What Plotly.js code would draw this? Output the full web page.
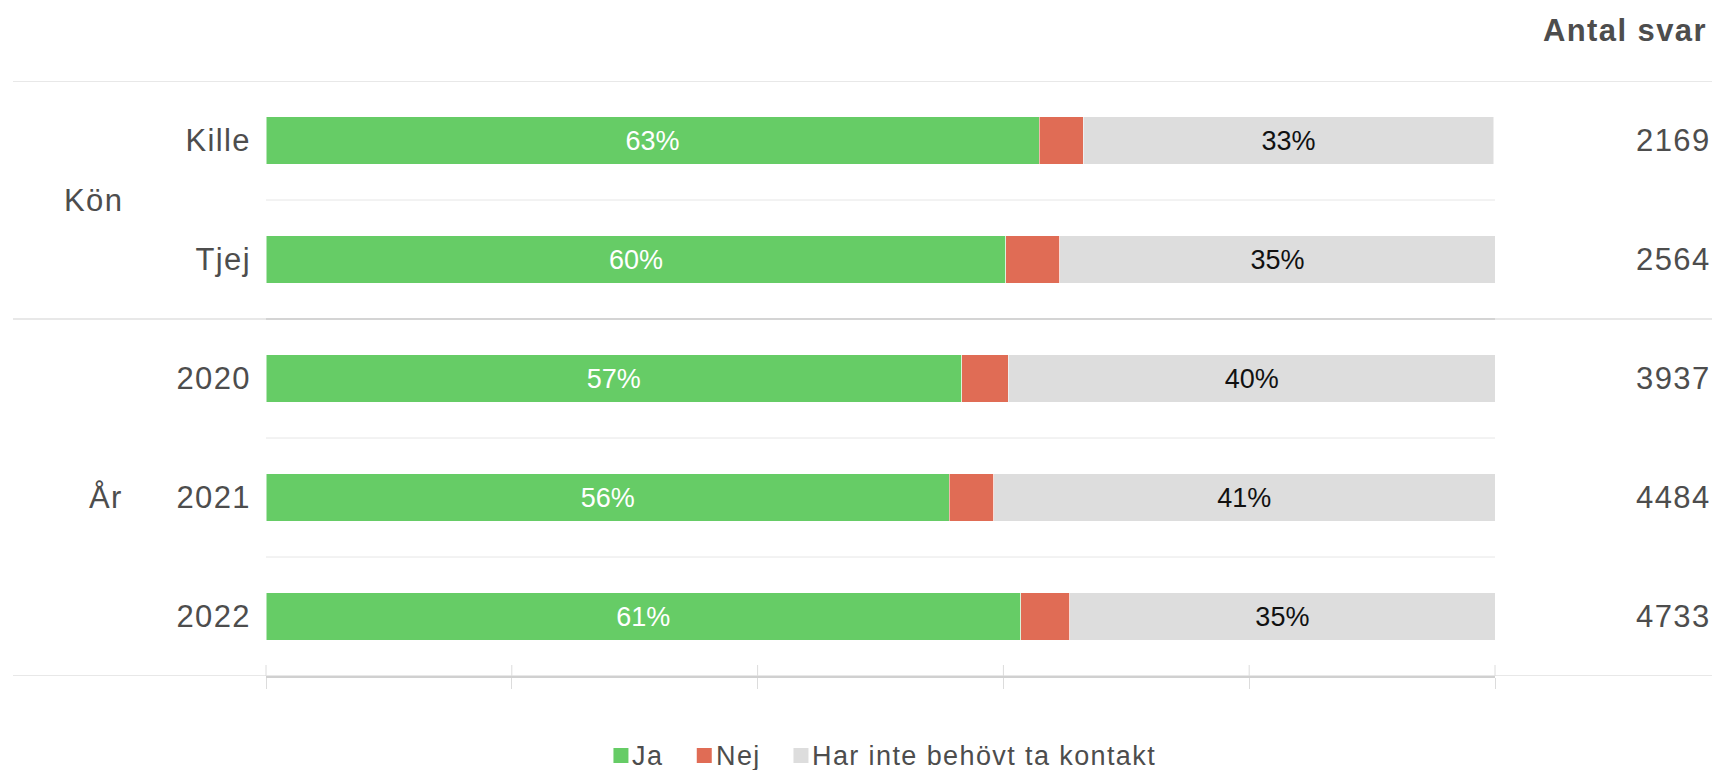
<!DOCTYPE html>
<html><head><meta charset="utf-8">
<script src="https://cdn.plot.ly/plotly-3.0.1.min.js"></script>
<style>
html,body{margin:0;padding:0;background:#fff;}
#chart{width:1712px;height:770px;}
.ytick text, text.annotation-text{letter-spacing:1.4px;}
</style></head><body><div id="chart"></div>
<script>
// ---- data ----
const categories = ['Kille', 'Tjej', '2020', '2021', '2022'];
const groupOf = ['Kön', 'Kön', 'År', 'År', 'År'];
const seriesNames = ['Ja', 'Nej', 'Har inte behövt ta kontakt'];
const ja = [62.9, 60.2, 56.6, 55.6, 61.4];
const nej = [3.6, 4.4, 3.8, 3.6, 4.0];
const harInte = [33.4, 35.4, 39.6, 40.8, 34.6];
const antalSvar = [2169, 2564, 3937, 4484, 4733];
const xTicks = [0, 20, 40, 60, 80, 100];
const headerText = 'Antal svar';

// ---- style ----
const colors = ['#66cc66', '#e06c55', '#dddddd'];
const textColors = ['#ffffff', '#ffffff', '#111111'];
const showLabel = [true, false, true];
const grayText = '#4d4d4d';
const FONT = '"Liberation Sans", Arial, Helvetica, sans-serif';
const W = 1712, H = 770;
const M = {l: 266, r: 217, t: 81, b: 94};
const PW = W - M.l - M.r, PH = H - M.t - M.b;
const px2paperX = p => (p - M.l) / PW;
const px2paperY = p => 1 - (p - M.t) / PH;
const xRange = [0, 100];
const val2paperX = v => (v - xRange[0]) / (xRange[1] - xRange[0]);

const seriesValues = [ja, nej, harInte];
const traces = seriesValues.map((vals, i) => ({
  type: 'bar', orientation: 'h', name: seriesNames[i],
  y: categories, x: vals,
  marker: {color: colors[i], line: {color: 'rgba(255,255,255,0.5)', width: 1}},
  width: 0.4,
  texttemplate: showLabel[i] ? '%{x:.0f}%' : '',
  textposition: 'inside', insidetextanchor: 'middle',
  textfont: {family: FONT, size: 27, color: textColors[i]},
  showlegend: false, hoverinfo: 'x+y+name'
}));

const shapes = [];
const annotations = [];
// boundaries between categories
const fullX0 = px2paperX(13), fullX1 = px2paperX(W);
for (let i = 0; i <= categories.length; i++) {
  const yb = i - 0.5;
  const isGroupEdge = i === 0 || i === categories.length || groupOf[i] !== groupOf[i - 1];
  if (isGroupEdge) {
    shapes.push({type: 'line', xref: 'paper', yref: 'y', x0: fullX0, x1: fullX1, y0: yb, y1: yb,
      line: {color: '#e8e8e8', width: 2}, layer: 'below'});
    if (i > 0 && i < categories.length) {
      shapes.push({type: 'line', xref: 'paper', yref: 'y', x0: 0, x1: 1, y0: yb, y1: yb,
        line: {color: '#d4d4d4', width: 2}, layer: 'below'});
    }
  } else {
    shapes.push({type: 'line', xref: 'paper', yref: 'y', x0: 0, x1: 1, y0: yb, y1: yb,
      line: {color: '#e6e6e6', width: 1}, layer: 'below'});
  }
}
// inner tick stubs above axis line
xTicks.forEach(v => {
  shapes.push({type: 'line', xref: 'paper', yref: 'paper', x0: val2paperX(v), x1: val2paperX(v),
    y0: 0, y1: 11 / PH, line: {color: '#dcdcdc', width: 1}, layer: 'below'});
});
// group labels
const groupNames = [...new Set(groupOf)];
groupNames.forEach(g => {
  const idx = categories.map((c, i) => i).filter(i => groupOf[i] === g);
  const mid = (idx[0] + idx[idx.length - 1]) / 2;
  annotations.push({xref: 'paper', yref: 'y', x: px2paperX(125), y: mid, text: g,
    xanchor: 'right', yanchor: 'middle', showarrow: false,
    font: {family: FONT, size: 31, color: grayText}});
});
// counts column
annotations.push({xref: 'paper', yref: 'paper', x: px2paperX(1709), y: px2paperY(30), text: '<b>' + headerText + '</b>',
  xanchor: 'right', yanchor: 'middle', showarrow: false, font: {family: FONT, size: 31, color: grayText}});
categories.forEach((c, i) => {
  annotations.push({xref: 'paper', yref: 'y', x: px2paperX(1713), y: i, text: String(antalSvar[i]),
    xanchor: 'right', yanchor: 'middle', showarrow: false, font: {family: FONT, size: 31, color: grayText}});
});
// custom legend
const ctx = document.createElement('canvas').getContext('2d');
ctx.font = '27px "Liberation Sans"';
try { ctx.letterSpacing = '1.4px'; } catch (e) {}
const sq = 15, sqGap = 4, itemGap = 33;
const widths = seriesNames.map(n => ctx.measureText(n).width);
const totalW = widths.reduce((a, w) => a + sq + sqGap + w, 0) + itemGap * (seriesNames.length - 1);
let cx = 885 - totalW / 2;
const legCy = 755.5;
seriesNames.forEach((n, i) => {
  shapes.push({type: 'rect', xref: 'paper', yref: 'paper', x0: px2paperX(cx), x1: px2paperX(cx + sq),
    y0: px2paperY(legCy + sq / 2), y1: px2paperY(legCy - sq / 2), fillcolor: colors[i], line: {width: 0}});
  annotations.push({xref: 'paper', yref: 'paper', x: px2paperX(cx + sq + sqGap - 2), y: px2paperY(legCy),
    text: n, xanchor: 'left', yanchor: 'middle', showarrow: false,
    font: {family: FONT, size: 27, color: grayText}});
  cx += sq + sqGap + widths[i] + itemGap;
});

const layout = {
  width: W, height: H,
  margin: M,
  paper_bgcolor: '#ffffff', plot_bgcolor: '#ffffff',
  barmode: 'stack', showlegend: false,
  font: {family: FONT, color: grayText},
  xaxis: {range: xRange, tickvals: xTicks, showticklabels: false, ticks: 'outside', ticklen: 11,
    tickcolor: '#dcdcdc', tickwidth: 1, showgrid: false, zeroline: false,
    showline: true, linecolor: '#d0d0d0', linewidth: 2, fixedrange: true},
  yaxis: {type: 'category', categoryarray: categories, range: [categories.length - 0.5, -0.5],
    showgrid: false, zeroline: false, showline: false, ticks: '', ticklabelstandoff: 14,
    tickfont: {family: FONT, size: 31, color: grayText}, fixedrange: true},
  shapes: shapes, annotations: annotations
};
Plotly.newPlot('chart', traces, layout, {displayModeBar: false, staticPlot: false});
</script></body></html>
